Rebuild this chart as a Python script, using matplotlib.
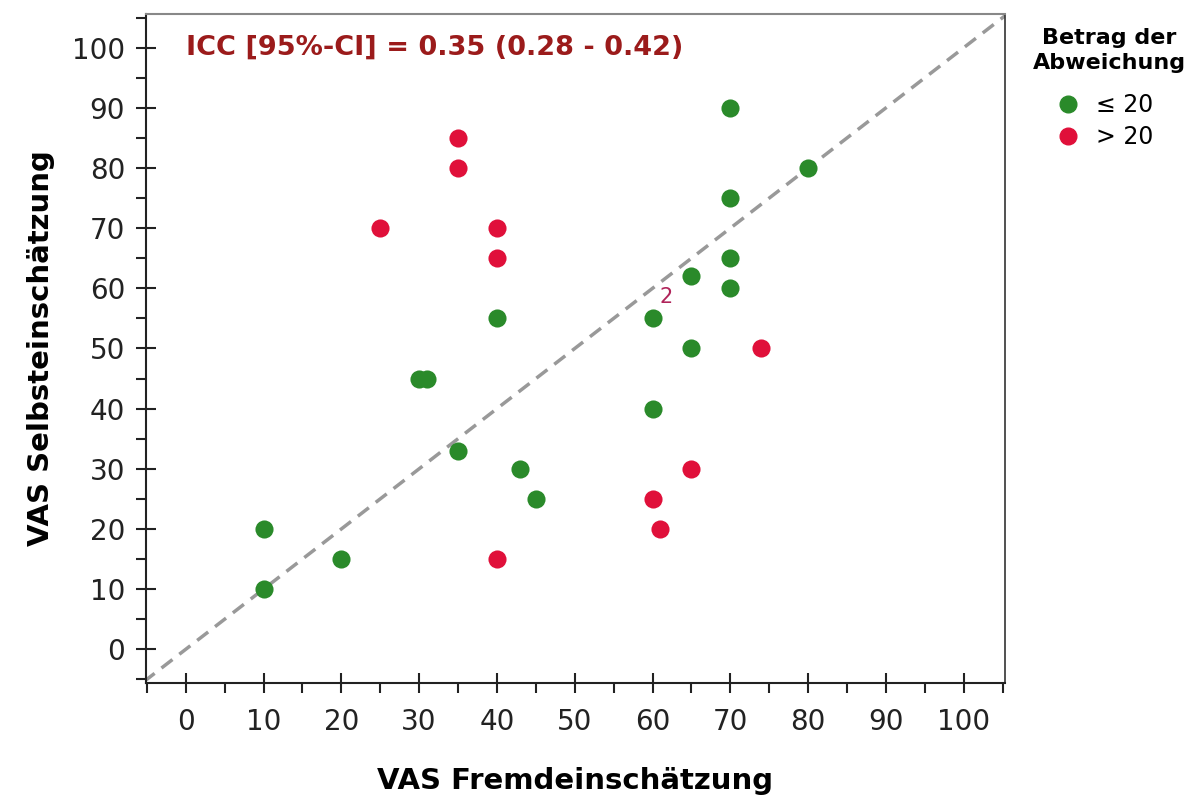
import matplotlib.pyplot as plt
from matplotlib.lines import Line2D
from matplotlib.ticker import MultipleLocator

plt.rcParams['font.family'] = ['DejaVu Sans']

# Fremdeinschaetzung (x) / Selbsteinschaetzung (y)
green_x = [10, 10, 20, 30, 31, 35, 40, 43, 45, 60, 60, 65, 65, 70, 70, 70, 70, 80]
green_y = [20, 10, 15, 45, 45, 33, 55, 30, 25, 55, 40, 62, 50, 90, 75, 65, 60, 80]
red_x = [25, 35, 35, 40, 40, 40, 60, 61, 65, 74]
red_y = [70, 85, 80, 70, 65, 15, 25, 20, 30, 50]

green = '#2a8a2a'
red = '#e0103a'

fig = plt.figure(figsize=(11.95, 7.98), dpi=100)
ax = fig.add_axes([0.1222, 0.1441, 0.7188, 0.8384])

ax.plot([-10, 110], [-10, 110], '--', color='#999999', lw=2.5, dashes=(4, 2.5), zorder=1)
ax.scatter(green_x, green_y, s=170, color=green, zorder=3, linewidths=0)
ax.scatter(red_x, red_y, s=170, color=red, zorder=3, linewidths=0)
ax.text(61.8, 58.5, '2', color='#b0245a', fontsize=15, ha='center', va='center')

ax.text(0, 100, 'ICC [95%-CI] = 0.35 (0.28 - 0.42)', color='#9b1b1b',
        fontsize=19.5, fontweight='bold', va='center', ha='left')

ax.set_xlim(-5.1, 105.3)
ax.set_ylim(-5.6, 105.6)
ax.xaxis.set_major_locator(MultipleLocator(10))
ax.yaxis.set_major_locator(MultipleLocator(10))
ax.xaxis.set_minor_locator(MultipleLocator(5))
ax.yaxis.set_minor_locator(MultipleLocator(5))
ax.tick_params(which='major', direction='inout', length=14, width=1.5, labelsize=20, colors='#222222')
ax.tick_params(axis='x', which='major', pad=11)
ax.tick_params(axis='y', which='major', pad=8)
ax.tick_params(which='minor', direction='out', length=7, width=1.5, colors='#222222')

for s in ['left', 'bottom']:
    ax.spines[s].set_color('#222222')
    ax.spines[s].set_linewidth(1.5)
ax.spines['top'].set_color('#888888')
ax.spines['top'].set_linewidth(1.5)
ax.spines['right'].set_color('#333333')
ax.spines['right'].set_linewidth(1.2)

ax.set_xlabel('VAS Fremdeinschätzung', fontsize=21, fontweight='bold', labelpad=22)
ax.set_ylabel('VAS Selbsteinschätzung', fontsize=21, fontweight='bold', labelpad=12)

# legend title drawn separately so the spacing matches
fig.text(0.928, 0.937, 'Betrag der\nAbweichung', fontsize=16, fontweight='bold',
         ha='center', va='center', multialignment='center', linespacing=1.3)
handles = [Line2D([], [], marker='o', ls='', color=green, markersize=12),
           Line2D([], [], marker='o', ls='', color=red, markersize=12)]
fig.legend(handles, ['≤ 20', '> 20'], loc='upper left',
           bbox_to_anchor=(0.876, 0.895), frameon=False, fontsize=17,
           handletextpad=0.7, labelspacing=0.35, borderaxespad=0.0,
           handlelength=1.0)

fig.savefig('out.png', dpi=100)
